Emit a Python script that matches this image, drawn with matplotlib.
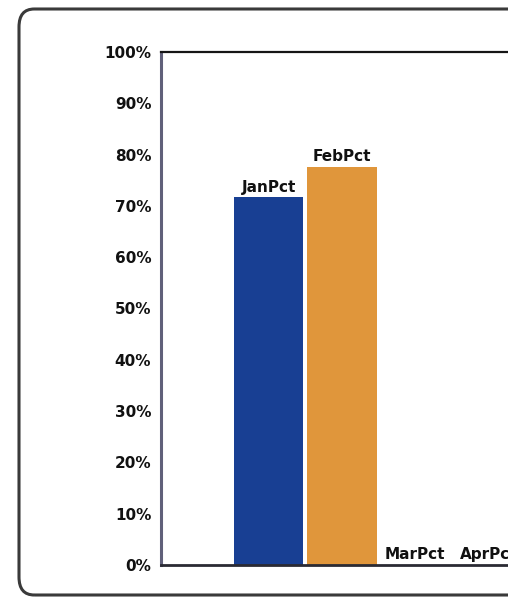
import matplotlib.pyplot as plt
from matplotlib.patches import FancyBboxPatch

# data
months = ['JanPct', 'FebPct', 'MarPct', 'AprPct']
values = [71.7, 77.6, 0, 0]
colors = ['#183f93', '#e0963b', '#183f93', '#e0963b']
yticks = [0, 10, 20, 30, 40, 50, 60, 70, 80, 90, 100]
ytick_labels = ['%d%%' % v for v in yticks]

plt.rcParams['font.family'] = ['DejaVu Sans']

W, H = 508, 598
fig = plt.figure(figsize=(W / 100, H / 100), dpi=100)

# outer rounded frame (runs off the right of the picture)
frame = FancyBboxPatch((19 / W, 3 / H), 600 / W, (H - 12) / H,
                       boxstyle='round,pad=0,rounding_size=0.03',
                       transform=fig.transFigure, fill=False,
                       edgecolor='#3a3a3a', linewidth=2.2)
fig.patches.append(frame)

# plot area also runs past the right edge
left, right = 161, 596
top, bottom = 52, 565
ax = fig.add_axes([left / W, (H - bottom) / H, (right - left) / W, (bottom - top) / H])

x = list(range(len(months)))
ax.bar(x, values, width=0.95, color=colors)

for xi, v, name in zip(x, values, months):
    ax.text(xi, v + 0.5, name, ha='center', va='bottom',
            fontsize=11, fontweight='bold', color='#111111')

ax.set_xlim(-1.47, 4.47)
ax.set_ylim(0, 100)
ax.set_yticks(yticks)
ax.set_yticklabels(ytick_labels, fontsize=11, fontweight='bold', color='#111111')
ax.tick_params(axis='y', length=0, pad=7)
ax.set_xticks([])

ax.spines['left'].set_color('#60607a')
ax.spines['left'].set_linewidth(2.2)
ax.spines['top'].set_color('#151515')
ax.spines['top'].set_linewidth(1.6)
ax.spines['bottom'].set_color('#2a2a33')
ax.spines['bottom'].set_linewidth(2.0)
ax.spines['right'].set_visible(False)

fig.savefig('out.png', dpi=100)
